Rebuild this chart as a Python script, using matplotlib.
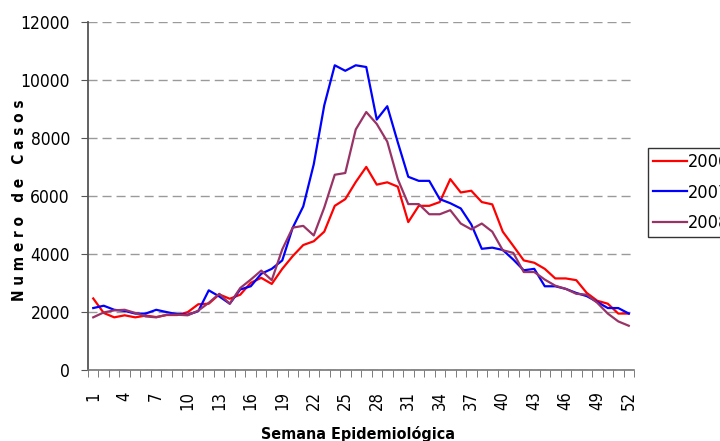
import matplotlib

matplotlib.use("Agg")
import matplotlib.pyplot as plt
from matplotlib import font_manager

weeks = list(range(1, 53))

casos_2006 = [2480, 1980, 1830, 1900, 1830, 1890, 1840, 1910, 1910, 2010,
              2280, 2300, 2620, 2470, 2610, 3020, 3190, 2980, 3500, 3940,
              4320, 4450, 4780, 5670, 5900, 6490, 7010, 6400, 6480, 6330,
              5110, 5670, 5670, 5800, 6590, 6130, 6190, 5800, 5720, 4780,
              4290, 3790, 3710, 3500, 3170, 3170, 3110, 2670, 2400, 2300,
              1960, 1960]
casos_2007 = [2150, 2230, 2090, 2050, 1960, 1960, 2090, 2010, 1940, 1920,
              2040, 2760, 2550, 2300, 2790, 2900, 3330, 3500, 3790, 4920,
              5650, 7100, 9130, 10510, 10320, 10510, 10450, 8640, 9100, 7860,
              6670, 6530, 6530, 5900, 5760, 5580, 5030, 4190, 4230, 4150,
              3820, 3450, 3500, 2900, 2900, 2810, 2670, 2560, 2360, 2150,
              2150, 1960]
casos_2008 = [1830, 2000, 2070, 2090, 1980, 1860, 1830, 1920, 1920, 1900,
              2060, 2330, 2640, 2300, 2840, 3130, 3440, 3110, 4170, 4920,
              4980, 4650, 5610, 6740, 6800, 8300, 8900, 8490, 7880, 6590,
              5730, 5730, 5380, 5380, 5520, 5060, 4860, 5060, 4780, 4140,
              4050, 3390, 3390, 3130, 2920, 2810, 2640, 2610, 2330, 1960,
              1690, 1540]

series = [("2006", casos_2006, "#FF0000"),
          ("2007", casos_2007, "#0000FF"),
          ("2008", casos_2008, "#993366")]

# the original uses a narrow font; take DejaVu Sans Condensed if it is there
fonts = font_manager.fontManager.ttflist
has_condensed = any(f.name == "DejaVu Sans" and "condensed" in str(f.stretch) for f in fonts)
if has_condensed:
    font = {"family": "DejaVu Sans", "stretch": "condensed"}
else:
    font = {"family": "Liberation Sans"}

fig = plt.figure(figsize=(7.2, 4.41), dpi=100)
ax = fig.add_axes([0.1222, 0.1599, 0.7584, 0.7902])

x = list(range(len(weeks)))
for name, vals, color in series:
    ax.plot(x, vals, color=color, lw=1.6, label=name)

ax.set_xlim(-0.5, len(weeks) - 0.5)
ax.set_ylim(0, 12000)

ax.set_yticks(range(0, 12001, 2000))
ax.yaxis.grid(True, color="#9a9a9a", ls=(0, (6.5, 3.6)), lw=1)
ax.set_axisbelow(True)

# category labels every 3 weeks, tick marks at category boundaries
ax.set_xticks(x[::3])
ax.set_xticklabels([str(w) for w in weeks[::3]])
ax.set_xticks([i - 0.5 for i in range(len(weeks) + 1)], minor=True)
ax.tick_params(axis="x", which="major", length=0, pad=15, labelrotation=90)
ax.tick_params(axis="x", which="minor", length=5, direction="out", color="#666666")
ax.tick_params(axis="y", length=5, direction="out", color="#555555", pad=8)
for lab in ax.get_xticklabels():
    lab.set(fontsize=12, va="top", ha="center", **font)
for lab in ax.get_yticklabels():
    lab.set(fontsize=12.5, **font)

for side in ("top", "right"):
    ax.spines[side].set_visible(False)
ax.spines["left"].set_color("#555555")
ax.spines["left"].set_linewidth(1.3)
ax.spines["bottom"].set_color("#777777")
ax.spines["bottom"].set_linewidth(1.2)

fig.text(358 / 720, 1 - 434 / 441, "Semana Epidemiológica", ha="center", va="center",
         fontweight="bold", fontsize=11.5, **font)
fig.text(20 / 720, 1 - 200 / 441, "N u m e r o   d e   C a s o s", ha="center",
         va="center", rotation=90, fontweight="bold", fontsize=11, **font)

leg = fig.legend(loc="upper left", bbox_to_anchor=(648 / 720, 1 - 148 / 441),
                 frameon=True, fancybox=False, edgecolor="black",
                 prop=dict(size=13, **font), handlelength=1.85,
                 handletextpad=0.08, labelspacing=0.68, borderaxespad=0,
                 borderpad=0.3)
leg.get_frame().set_linewidth(1.0)

fig.savefig("out.png", dpi=100)
